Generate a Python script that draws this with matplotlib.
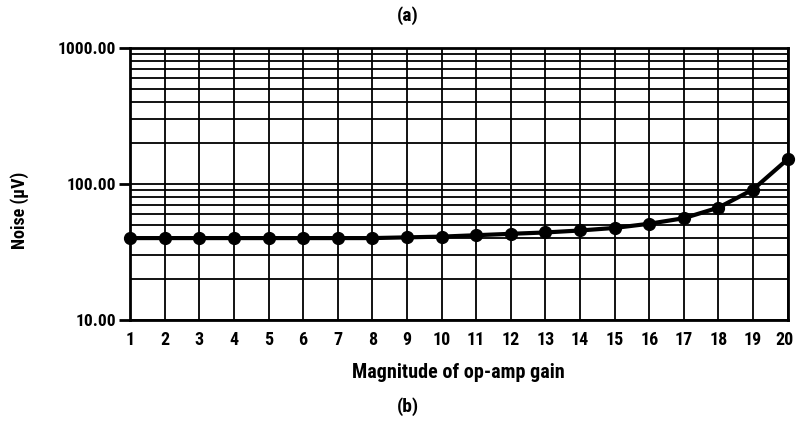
import matplotlib
matplotlib.use("Agg")
import matplotlib.pyplot as plt
from matplotlib.ticker import FixedLocator, LogLocator, NullFormatter, FixedFormatter
import matplotlib.transforms as mtransforms

gain = list(range(1, 21))
noise_uv = [40, 40, 40, 40, 40, 40, 40, 40, 40.5, 41, 42, 43, 44, 45.5, 47.5, 51, 56, 67, 91, 152]
ytick_vals = [10, 100, 1000]
ytick_labels = ["10.00", "100.00", "1000.00"]

FONT = ["Roboto Condensed", "Liberation Sans Narrow", "Liberation Sans", "DejaVu Sans"]
plt.rcParams["font.family"] = FONT
plt.rcParams["font.weight"] = "bold"

fig = plt.figure(figsize=(7.98, 4.21), dpi=100)
ax = fig.add_axes([0.163, 0.240, 0.824, 0.646])

ax.set_yscale("log")
ax.set_xlim(1, 20)
ax.set_ylim(10, 1000)

ax.plot(gain, noise_uv, color="black", lw=3, marker="o", ms=8.5, zorder=5, clip_on=False)

ax.xaxis.set_major_locator(FixedLocator(gain))
ax.set_xticklabels([str(g) for g in gain])
ax.yaxis.set_major_locator(FixedLocator(ytick_vals))
ax.yaxis.set_major_formatter(FixedFormatter(ytick_labels))
ax.yaxis.set_minor_locator(LogLocator(base=10, subs=range(2, 10)))
ax.yaxis.set_minor_formatter(NullFormatter())

ax.grid(True, which="both", axis="y", color="black", lw=1.3)
ax.grid(True, which="major", axis="x", color="black", lw=1.3)

for s in ax.spines.values():
    s.set_linewidth(2)
    s.set_color("black")

ax.tick_params(axis="x", length=0, pad=8, labelsize=13)
ax.tick_params(axis="y", which="major", length=8, width=2, pad=2, labelsize=12.5)
ax.tick_params(axis="y", which="minor", length=0)
for lab in ax.get_xticklabels() + ax.get_yticklabels():
    lab.set_fontweight("bold")

# nudge the last x label so it stays inside the canvas
last = ax.get_xticklabels()[-1]
last.set_transform(last.get_transform() + mtransforms.ScaledTranslation(-3 / 100, 0, fig.dpi_scale_trans))

ax.set_xlabel("Magnitude of op-amp gain", fontsize=14.5, fontweight="bold", labelpad=10)
fig.text(0.025, 0.5, "Noise (\u03bcV)", rotation=90, ha="center", va="center",
         fontsize=13, fontweight="bold")
fig.text(0.511, 0.962, "(a)", ha="center", va="center", fontsize=14, fontweight="bold")
fig.text(0.511, 0.034, "(b)", ha="center", va="center", fontsize=14, fontweight="bold")

fig.savefig("out.png", dpi=100)
